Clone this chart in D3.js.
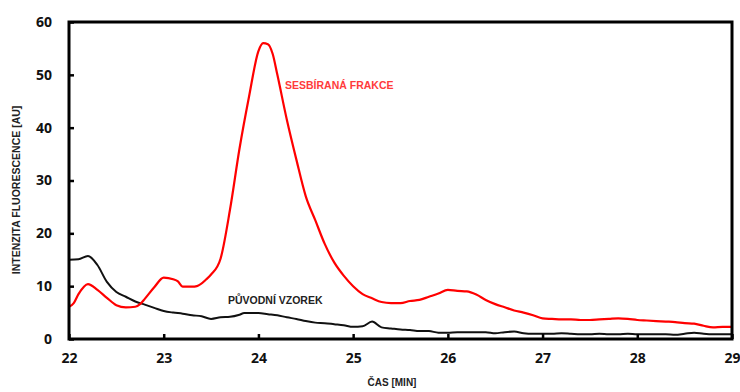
<!DOCTYPE html>
<html><head><meta charset="utf-8">
<script src="https://cdn.jsdelivr.net/npm/d3@7"></script>
<style>body{margin:0;background:#fff}svg{display:block}text{font-family:"Open Sans",sans-serif;font-weight:700}.lbl{font-family:"Liberation Sans",Arial,sans-serif}</style>
</head><body><svg id="c" width="740" height="392"></svg>
<script>
const redTime = [22.0,22.05,22.1,22.2,22.3,22.4,22.5,22.6,22.7,22.75,22.8,22.9,23.0,23.1,23.15,23.2,23.3,23.35,23.45,23.5,23.6,23.7,23.8,23.9,24.0,24.05,24.1,24.15,24.2,24.3,24.4,24.5,24.6,24.7,24.8,24.9,25.0,25.1,25.2,25.3,25.4,25.5,25.6,25.7,25.8,25.9,26.0,26.1,26.2,26.3,26.4,26.5,26.6,26.7,26.8,26.9,27.0,27.1,27.2,27.3,27.4,27.5,27.6,27.7,27.8,27.9,28.0,28.1,28.2,28.3,28.4,28.5,28.6,28.7,28.8,28.9,29.0];
const redValues = [6.1,6.8,8.5,10.4,9.3,7.8,6.4,6.0,6.1,6.6,7.6,9.8,11.6,11.3,10.9,9.9,9.9,10.0,11.3,12.2,15.2,24.5,36,45.8,54.5,56,55.8,54,50,41.5,34,27,22.5,18,14.5,12,10,8.5,7.7,7.0,6.8,6.8,7.2,7.4,8.0,8.6,9.3,9.1,9.0,8.4,7.4,6.6,6.0,5.4,5.0,4.5,3.9,3.8,3.7,3.7,3.6,3.6,3.7,3.8,3.9,3.8,3.6,3.5,3.4,3.3,3.2,3.0,2.9,2.5,2.2,2.3,2.3];
const blackTime = [22.0,22.1,22.2,22.3,22.4,22.5,22.6,22.7,22.8,22.9,23.0,23.1,23.2,23.3,23.4,23.5,23.6,23.7,23.8,23.85,24.0,24.1,24.2,24.3,24.4,24.5,24.6,24.7,24.8,24.9,25.0,25.1,25.2,25.3,25.4,25.5,25.6,25.7,25.8,25.9,26.0,26.1,26.2,26.3,26.4,26.5,26.6,26.7,26.8,26.9,27.0,27.1,27.2,27.3,27.4,27.5,27.6,27.7,27.8,27.9,28.0,28.1,28.2,28.3,28.4,28.5,28.6,28.7,28.8,28.9,29.0];
const blackValues = [15,15.1,15.7,14,10.8,8.9,8.0,7.1,6.5,5.9,5.3,5.0,4.8,4.5,4.3,3.8,4.1,4.2,4.6,4.9,4.9,4.7,4.5,4.1,3.8,3.4,3.1,3.0,2.8,2.6,2.3,2.4,3.3,2.2,2.0,1.8,1.7,1.5,1.5,1.2,1.2,1.3,1.3,1.3,1.3,1.1,1.3,1.4,1.1,1.0,1.0,1.0,1.1,1.0,0.9,0.9,1.0,0.9,0.9,1.0,0.9,0.9,0.9,0.9,0.8,1.0,1.2,1.0,0.9,0.9,0.9];
const xTicks = [22,23,24,25,26,27,28,29];
const yTicks = [0,10,20,30,40,50,60];
const redLabel = "SESBÍRANÁ FRAKCE";
const blackLabel = "PŮVODNÍ VZOREK";
const xTitle = "ČAS [MIN]";
const yTitle = "INTENZITA FLUORESCENCE [AU]";

const svg = d3.select("#c");
const L=69,T=22,R=732,B=339;
const x = d3.scaleLinear().domain([22,29]).range([L,R]);
const y = d3.scaleLinear().domain([0,60]).range([B,T]);

svg.append("clipPath").attr("id","clip").append("rect").attr("x",L).attr("y",T).attr("width",R-L).attr("height",B-T);

const line = d3.line().x(d=>x(d[0])).y(d=>y(d[1])).curve(d3.curveMonotoneX);
const g = svg.append("g").attr("clip-path","url(#clip)");
g.append("path").datum(blackTime.map((t,i)=>[t,blackValues[i]])).attr("d",line)
 .attr("fill","none").attr("stroke","#111").attr("stroke-width",2);
g.append("path").datum(redTime.map((t,i)=>[t,redValues[i]])).attr("d",line)
 .attr("fill","none").attr("stroke","#ff0000").attr("stroke-width",2.2);

svg.append("rect").attr("x",L).attr("y",T).attr("width",R-L).attr("height",B-T)
 .attr("fill","none").attr("stroke","#000").attr("stroke-width",3);

const xa = svg.append("g").attr("transform",`translate(0,${B})`)
 .call(d3.axisBottom(x).tickValues(xTicks).tickFormat(d3.format("d")).tickSizeInner(-5).tickSizeOuter(0).tickPadding(14));
xa.select(".domain").remove();
xa.selectAll("line").attr("stroke","#000").attr("stroke-width",2.5);
xa.selectAll("text").attr("font-size",14).attr("fill","#111");
const ya = svg.append("g").attr("transform",`translate(${L},0)`)
 .call(d3.axisLeft(y).tickValues(yTicks).tickSizeInner(-5).tickSizeOuter(0).tickPadding(17));
ya.select(".domain").remove();
ya.selectAll("line").attr("stroke","#000").attr("stroke-width",2.5);
ya.selectAll("text").attr("font-size",14).attr("fill","#111");

svg.append("text").attr("class","lbl").attr("x",392).attr("y",386).attr("text-anchor","middle").attr("font-size",10).attr("fill","#222").text(xTitle);
svg.append("text").attr("class","lbl").attr("transform","translate(20,190) rotate(-90)").attr("text-anchor","middle").attr("font-size",10.5).attr("fill","#222").text(yTitle);
svg.append("text").attr("class","lbl").attr("x",285).attr("y",89).attr("font-size",10.5).attr("fill","#ff3b3b").text(redLabel);
svg.append("text").attr("class","lbl").attr("x",228).attr("y",304).attr("font-size",10.5).attr("fill","#222").text(blackLabel);
</script></body></html>
